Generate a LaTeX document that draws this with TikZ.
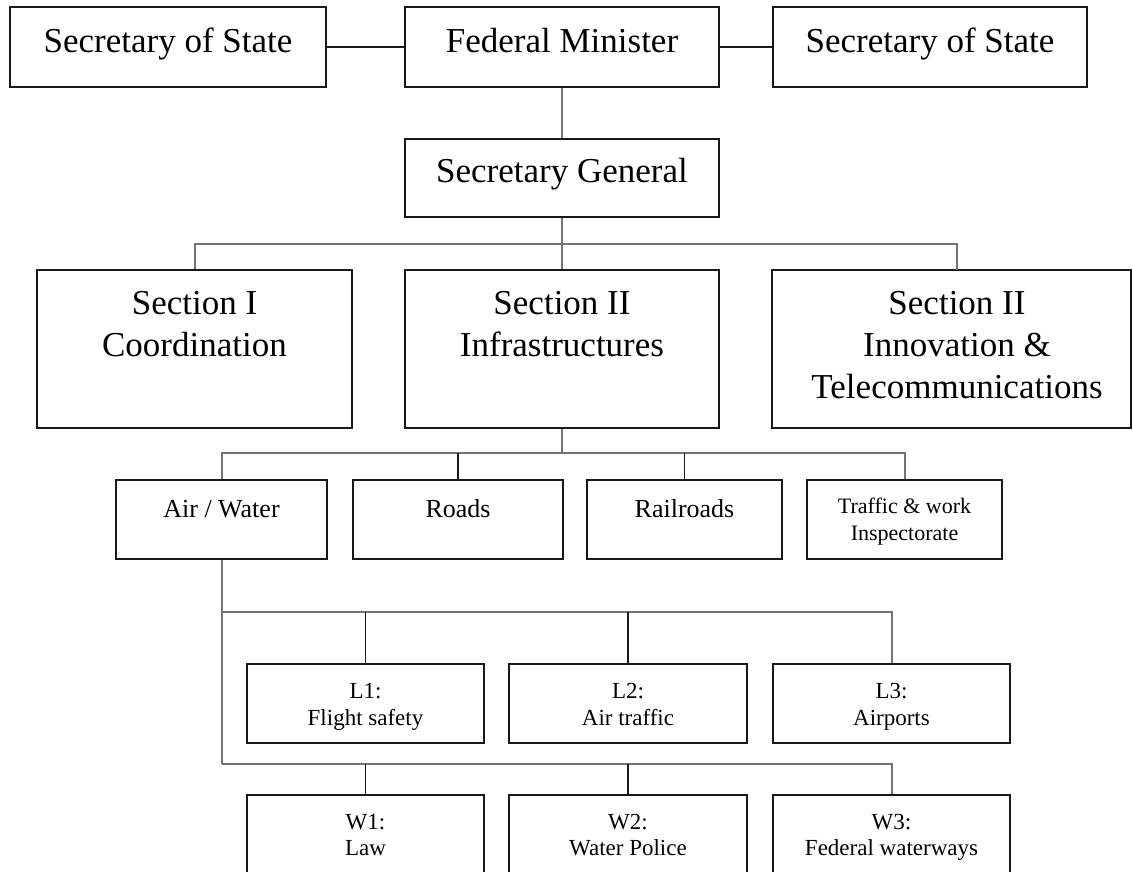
\documentclass[tikz,border=0pt]{standalone}
\usepackage{fontspec}
\setmainfont{Liberation Serif}
\begin{document}
\begin{tikzpicture}[x=1pt,y=-1pt,
  box/.style={draw=black!90, line width=1.6pt, inner sep=0pt, fill=none},
  big/.style={font=\fontsize{35}{42}\selectfont, inner sep=0pt, align=center},
  mid/.style={font=\fontsize{26}{30}\selectfont, inner sep=0pt, align=center},
  tiny/.style={font=\fontsize{22}{27}\selectfont, inner sep=0pt, align=center},
  small/.style={font=\fontsize{23}{26.5}\selectfont, inner sep=0pt, align=center},
  blk/.style={draw=black!90, line width=1.6pt},
  gry/.style={draw=black!55, line width=2pt},
]
\useasboundingbox (0,0) rectangle (1133,871);
\clip (0,0) rectangle (1133,871);

% ---- top row
\node[box, minimum width=316, minimum height=80] (sosl) at (168,47) {};
\node[big, anchor=base] (tsosl) at (168,52) {Secretary of State};
\node[box, minimum width=314, minimum height=80] (fm) at (562,47) {};
\node[big, anchor=base] (tfm) at (562,52) {Federal Minister};
\node[box, minimum width=314, minimum height=80] (sosr) at (930,47) {};
\node[big, anchor=base] (tsosr) at (930,52) {Secretary of State};

% ---- secretary general
\node[box, minimum width=314, minimum height=78] (sg) at (562,178) {};
\node[big, anchor=base] (tsg) at (562,182) {Secretary General};

% ---- sections
\node[box, minimum width=315, minimum height=158] (s1) at (194.5,349) {};
\node[big, anchor=north] (ts1) at (194.5,284.6) {\strut Section I\\Coordination};
\node[box, minimum width=314, minimum height=158] (s2) at (562,349) {};
\node[big, anchor=north] (ts2) at (562,284.6) {\strut Section II\\Infrastructures};
\node[box, minimum width=359, minimum height=158] (s3) at (951.5,349) {};
\node[big, anchor=north] (ts3) at (957,284.6) {\strut Section II\\Innovation \&\\Telecommunications};

% ---- level 3
\node[box, minimum width=211, minimum height=79] (aw) at (221.5,519.5) {};
\node[mid, anchor=base] (taw) at (221.5,517) {Air / Water};
\node[box, minimum width=210, minimum height=79] (rd) at (458,519.5) {};
\node[mid, anchor=base] (trd) at (458,517) {Roads};
\node[box, minimum width=195, minimum height=79] (rr) at (684.5,519.5) {};
\node[mid, anchor=base] (trr) at (684.5,517) {Railroads};
\node[box, minimum width=195, minimum height=79] (tw) at (904.5,519.5) {};
\node[tiny, anchor=north] (ttw) at (904.5,494.1) {\strut Traffic \& work\\Inspectorate};

% ---- level 4 (L)
\node[box, minimum width=237, minimum height=79] (l1) at (365.5,703.5) {};
\node[small, anchor=north] (tl1) at (365.5,680) {\strut L1:\\Flight safety};
\node[box, minimum width=238, minimum height=79] (l2) at (628,703.5) {};
\node[small, anchor=north] (tl2) at (628,680) {\strut L2:\\Air traffic};
\node[box, minimum width=237, minimum height=79] (l3) at (891.5,703.5) {};
\node[small, anchor=north] (tl3) at (891.5,680) {\strut L3:\\Airports};

% ---- level 4 (W)
\node[box, minimum width=237, minimum height=110] (w1) at (365.5,850) {};
\node[small, anchor=north] (tw1) at (365.5,810.5) {\strut W1:\\Law};
\node[box, minimum width=238, minimum height=110] (w2) at (628,850) {};
\node[small, anchor=north] (tw2) at (628,810.5) {\strut W2:\\Water Police};
\node[box, minimum width=237, minimum height=110] (w3) at (891.5,850) {};
\node[small, anchor=north] (tw3) at (891.5,810.5) {\strut W3:\\Federal waterways};

% ---- bus coordinates
\coordinate (busA) at (562,244);
\coordinate (s3top) at (957,270);
\coordinate (busB) at (562,453);
\coordinate (lbus) at (221.5,612);
\coordinate (wbus) at (221.5,764);

% ---- connectors
\draw[blk] (sosl.east) -- (fm.west);
\draw[blk] (fm.east) -- (sosr.west);
\draw[gry] (fm.south) -- (sg.north);
\draw[gry] (sg.south) -- (s2.north);
\draw[gry] (s1.north) |- (busA);
\draw[gry] (busA) -| (s3top);
\draw[gry] (s2.south) -- (busB);
\draw[gry] (aw.north) |- (busB);
\draw[gry] (busB) -| (tw.north);
\draw[blk] (rd.north) -- (rd.north |- busB);
\draw[blk] (rr.north) -- (rr.north |- busB);
\draw[gry] (aw.south) -- (wbus);
\draw[gry] (lbus) -| (l3.north);
\draw[gry] (wbus) -| (w3.north);
\draw[blk] (l1.north) -- (l1.north |- lbus);
\draw[blk] (l2.north) -- (l2.north |- lbus);
\draw[blk] (w1.north) -- (w1.north |- wbus);
\draw[blk] (w2.north) -- (w2.north |- wbus);
\end{tikzpicture}
\end{document}
